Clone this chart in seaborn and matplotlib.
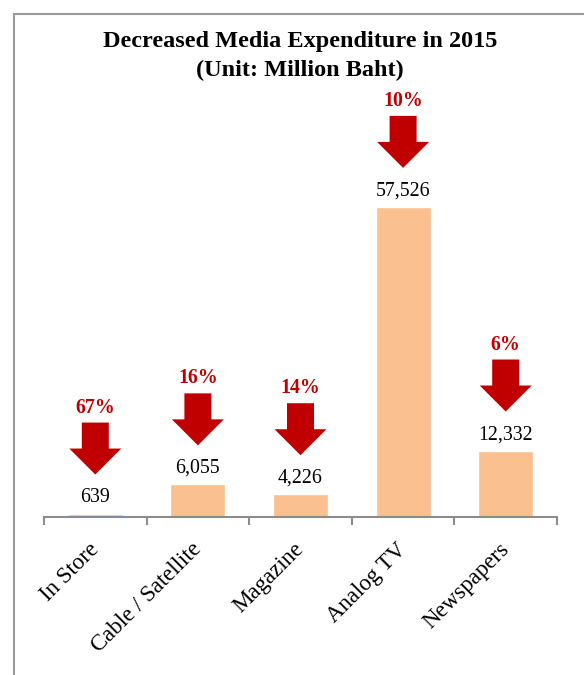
import matplotlib
matplotlib.use("Agg")
import matplotlib.pyplot as plt
import matplotlib.transforms as mtransforms
from matplotlib.patches import Polygon, Rectangle
import seaborn as sns
import pandas as pd

categories = ["In Store", "Cable / Satellite", "Magazine", "Analog TV", "Newspapers"]
values = [639, 6055, 4226, 57526, 12332]
value_labels = ["639", "6,055", "4,226", "57,526", "12,332"]
decrease_labels = ["67%", "16%", "14%", "10%", "6%"]

sns.set_theme(style="white")
plt.rcParams["font.family"] = ["Liberation Serif", "DejaVu Serif"]

W, H = 584, 675
fig = plt.figure(figsize=(W / 100, H / 100), dpi=100)
ax_left, ax_right, ax_bottom, ax_top = 44, 557, 517, 110
ax = fig.add_axes([ax_left / W, 1 - ax_bottom / H, (ax_right - ax_left) / W, (ax_bottom - ax_top) / H])

df = pd.DataFrame({"category": categories, "value": values})
sns.barplot(data=df, x="category", y="value", color="#FAC090", saturation=1, width=0.535, ax=ax)

ax.set_xlim(-0.5, len(categories) - 0.5)
ax.set_ylim(0, 75500)
ax.set_xlabel("")
ax.set_ylabel("")
ax.set_yticks([])
for s in ["left", "right", "top"]:
    ax.spines[s].set_visible(False)
ax.spines["bottom"].set_color("#8C8C8C")
ax.spines["bottom"].set_linewidth(1.5)

# category labels at centers, tick marks at boundaries
ax.set_xticks(range(len(categories)))
ax.set_xticklabels(categories, rotation=45, ha="right", va="center", rotation_mode="anchor",
                   fontsize=16.5, color="black")
ax.tick_params(axis="x", which="major", length=0, pad=21)
ax.set_xticks([i - 0.5 for i in range(len(categories) + 1)], minor=True)
ax.tick_params(axis="x", which="minor", bottom=True, length=6, width=1.5, color="#8C8C8C",
               direction="out")

# value labels, arrows, percentages
for i, (v, vl, dl) in enumerate(zip(values, value_labels, decrease_labels)):
    ax.annotate(vl, (i, v), xytext=(0, 11.5), textcoords="offset points",
                ha="center", va="center", fontsize=14.3, color="black")
    px, py = ax.transData.transform((i, v))
    tip = 39
    base = tip + 26
    top = tip + 52
    hw, sw = 26, 13.5
    verts = [(0, tip), (-hw, base), (-sw, base), (-sw, top), (sw, top), (sw, base), (hw, base)]
    tr = mtransforms.Affine2D().translate(px, py)
    ax.add_patch(Polygon(verts, closed=True, transform=tr, facecolor="#C00000",
                         edgecolor="none", clip_on=False))
    ax.annotate(dl, (i, v), xytext=(0, (top + 15) * 0.72), textcoords="offset points",
                ha="center", va="center", fontsize=14.3, fontweight="bold", color="#C00000")

fig.text(300 / W, 1 - 41 / H, "Decreased Media Expenditure in 2015", ha="center", va="center",
         fontsize=17.5, fontweight="bold", color="black")
fig.text(300 / W, 1 - 70 / H, "(Unit: Million Baht)", ha="center", va="center",
         fontsize=17.5, fontweight="bold", color="black")

# outer border (left and top visible)
fig.patches.append(Rectangle((13.5 / W, -0.1), 1.2, 1.1 - 13.5 / H, transform=fig.transFigure,
                             fill=False, edgecolor="#9A9A9A", linewidth=1.5))

fig.savefig("out.png", dpi=100, facecolor="white")
